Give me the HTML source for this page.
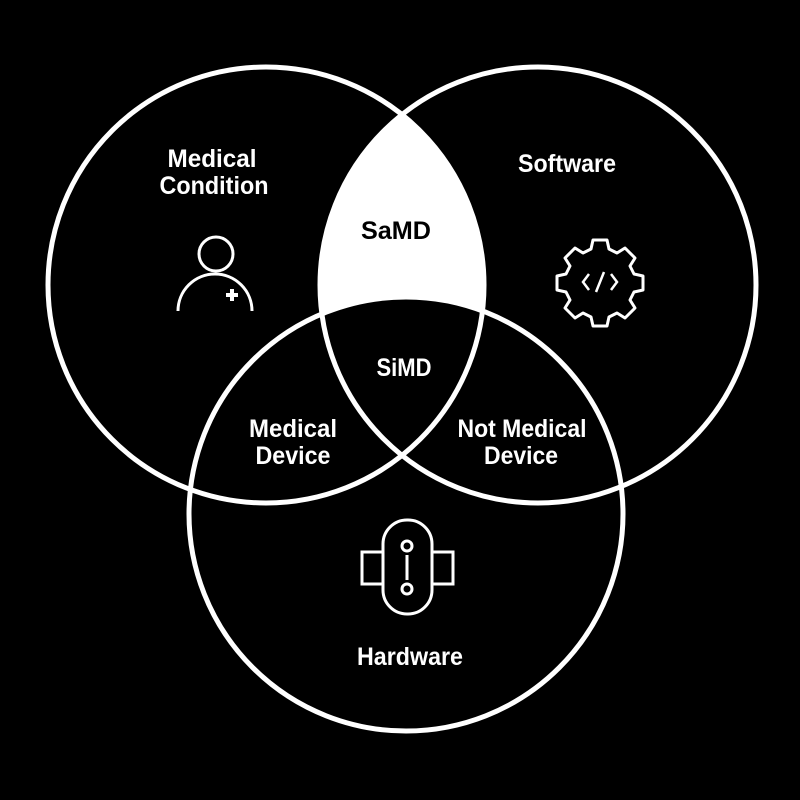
<!DOCTYPE html>
<html><head><style>
html,body{margin:0;padding:0;background:#000;}
svg{display:block}
text{font-family:"Liberation Sans Narrow","Liberation Sans",sans-serif;font-weight:bold;font-size:25px;text-anchor:middle;fill:#fff}
</style></head><body>
<svg width="800" height="800" viewBox="0 0 800 800" xmlns="http://www.w3.org/2000/svg">
<defs>
<clipPath id="cl"><circle cx="266" cy="285" r="218"/></clipPath>
<mask id="mb"><rect width="800" height="800" fill="#fff"/><circle cx="406" cy="514" r="217" fill="#000"/></mask>
</defs>
<rect width="800" height="800" fill="#000"/>
<g mask="url(#mb)"><circle cx="538" cy="285" r="218" fill="#fff" clip-path="url(#cl)"/></g>
<g fill="none" stroke="#fff" stroke-width="5">
<circle cx="266" cy="285" r="218"/>
<circle cx="538" cy="285" r="218"/>
<circle cx="406" cy="514" r="217"/>
</g>
<g fill="none" stroke="#fff" stroke-width="3">
<circle cx="216" cy="254" r="17"/>
<path d="M178 311 A37 37 0 0 1 252 311"/>
<rect x="383" y="520" width="49" height="94" rx="24"/>
<rect x="362" y="552" width="21" height="32"/>
<rect x="432" y="552" width="21" height="32"/>
<circle cx="407" cy="546" r="5"/>
<circle cx="407" cy="589" r="5"/>
<line x1="407" y1="555" x2="407" y2="580"/>
<path d="M593 240 h14 l2 9 l8 4 l8 -5 l10 10 l-5 8 l4 8 l9 2 v14 l-9 2 l-4 8 l5 8 l-10 10 l-8 -5 l-8 4 l-2 9 h-14 l-2 -9 l-8 -4 l-8 5 l-10 -10 l5 -8 l-4 -8 l-9 -2 v-14 l9 -2 l4 -8 l-5 -8 l10 -10 l8 5 l8 -4 z" stroke-linejoin="round"/>
<path d="M589 274 l-6 8 l6 8 M611 274 l6 8 l-6 8 M604 272 l-8 20" stroke-width="2.5"/>
</g>
<rect x="226" y="293" width="12" height="4" fill="#fff"/>
<rect x="230" y="289" width="4" height="12" fill="#fff"/>
<g lengthAdjust="spacingAndGlyphs">
<text x="212" y="167" textLength="89" lengthAdjust="spacingAndGlyphs">Medical</text>
<text x="214" y="194" textLength="109" lengthAdjust="spacingAndGlyphs">Condition</text>
<text x="567" y="172" textLength="98" lengthAdjust="spacingAndGlyphs">Software</text>
<text x="396" y="239" textLength="70" lengthAdjust="spacingAndGlyphs" style="fill:#000">SaMD</text>
<text x="404" y="376" textLength="55" lengthAdjust="spacingAndGlyphs">SiMD</text>
<text x="293" y="437" textLength="88" lengthAdjust="spacingAndGlyphs">Medical</text>
<text x="293" y="464" textLength="75" lengthAdjust="spacingAndGlyphs">Device</text>
<text x="522" y="437" textLength="129" lengthAdjust="spacingAndGlyphs">Not Medical</text>
<text x="521" y="464" textLength="74" lengthAdjust="spacingAndGlyphs">Device</text>
<text x="410" y="665" textLength="106" lengthAdjust="spacingAndGlyphs">Hardware</text>
</g>
</svg>
</body></html>
